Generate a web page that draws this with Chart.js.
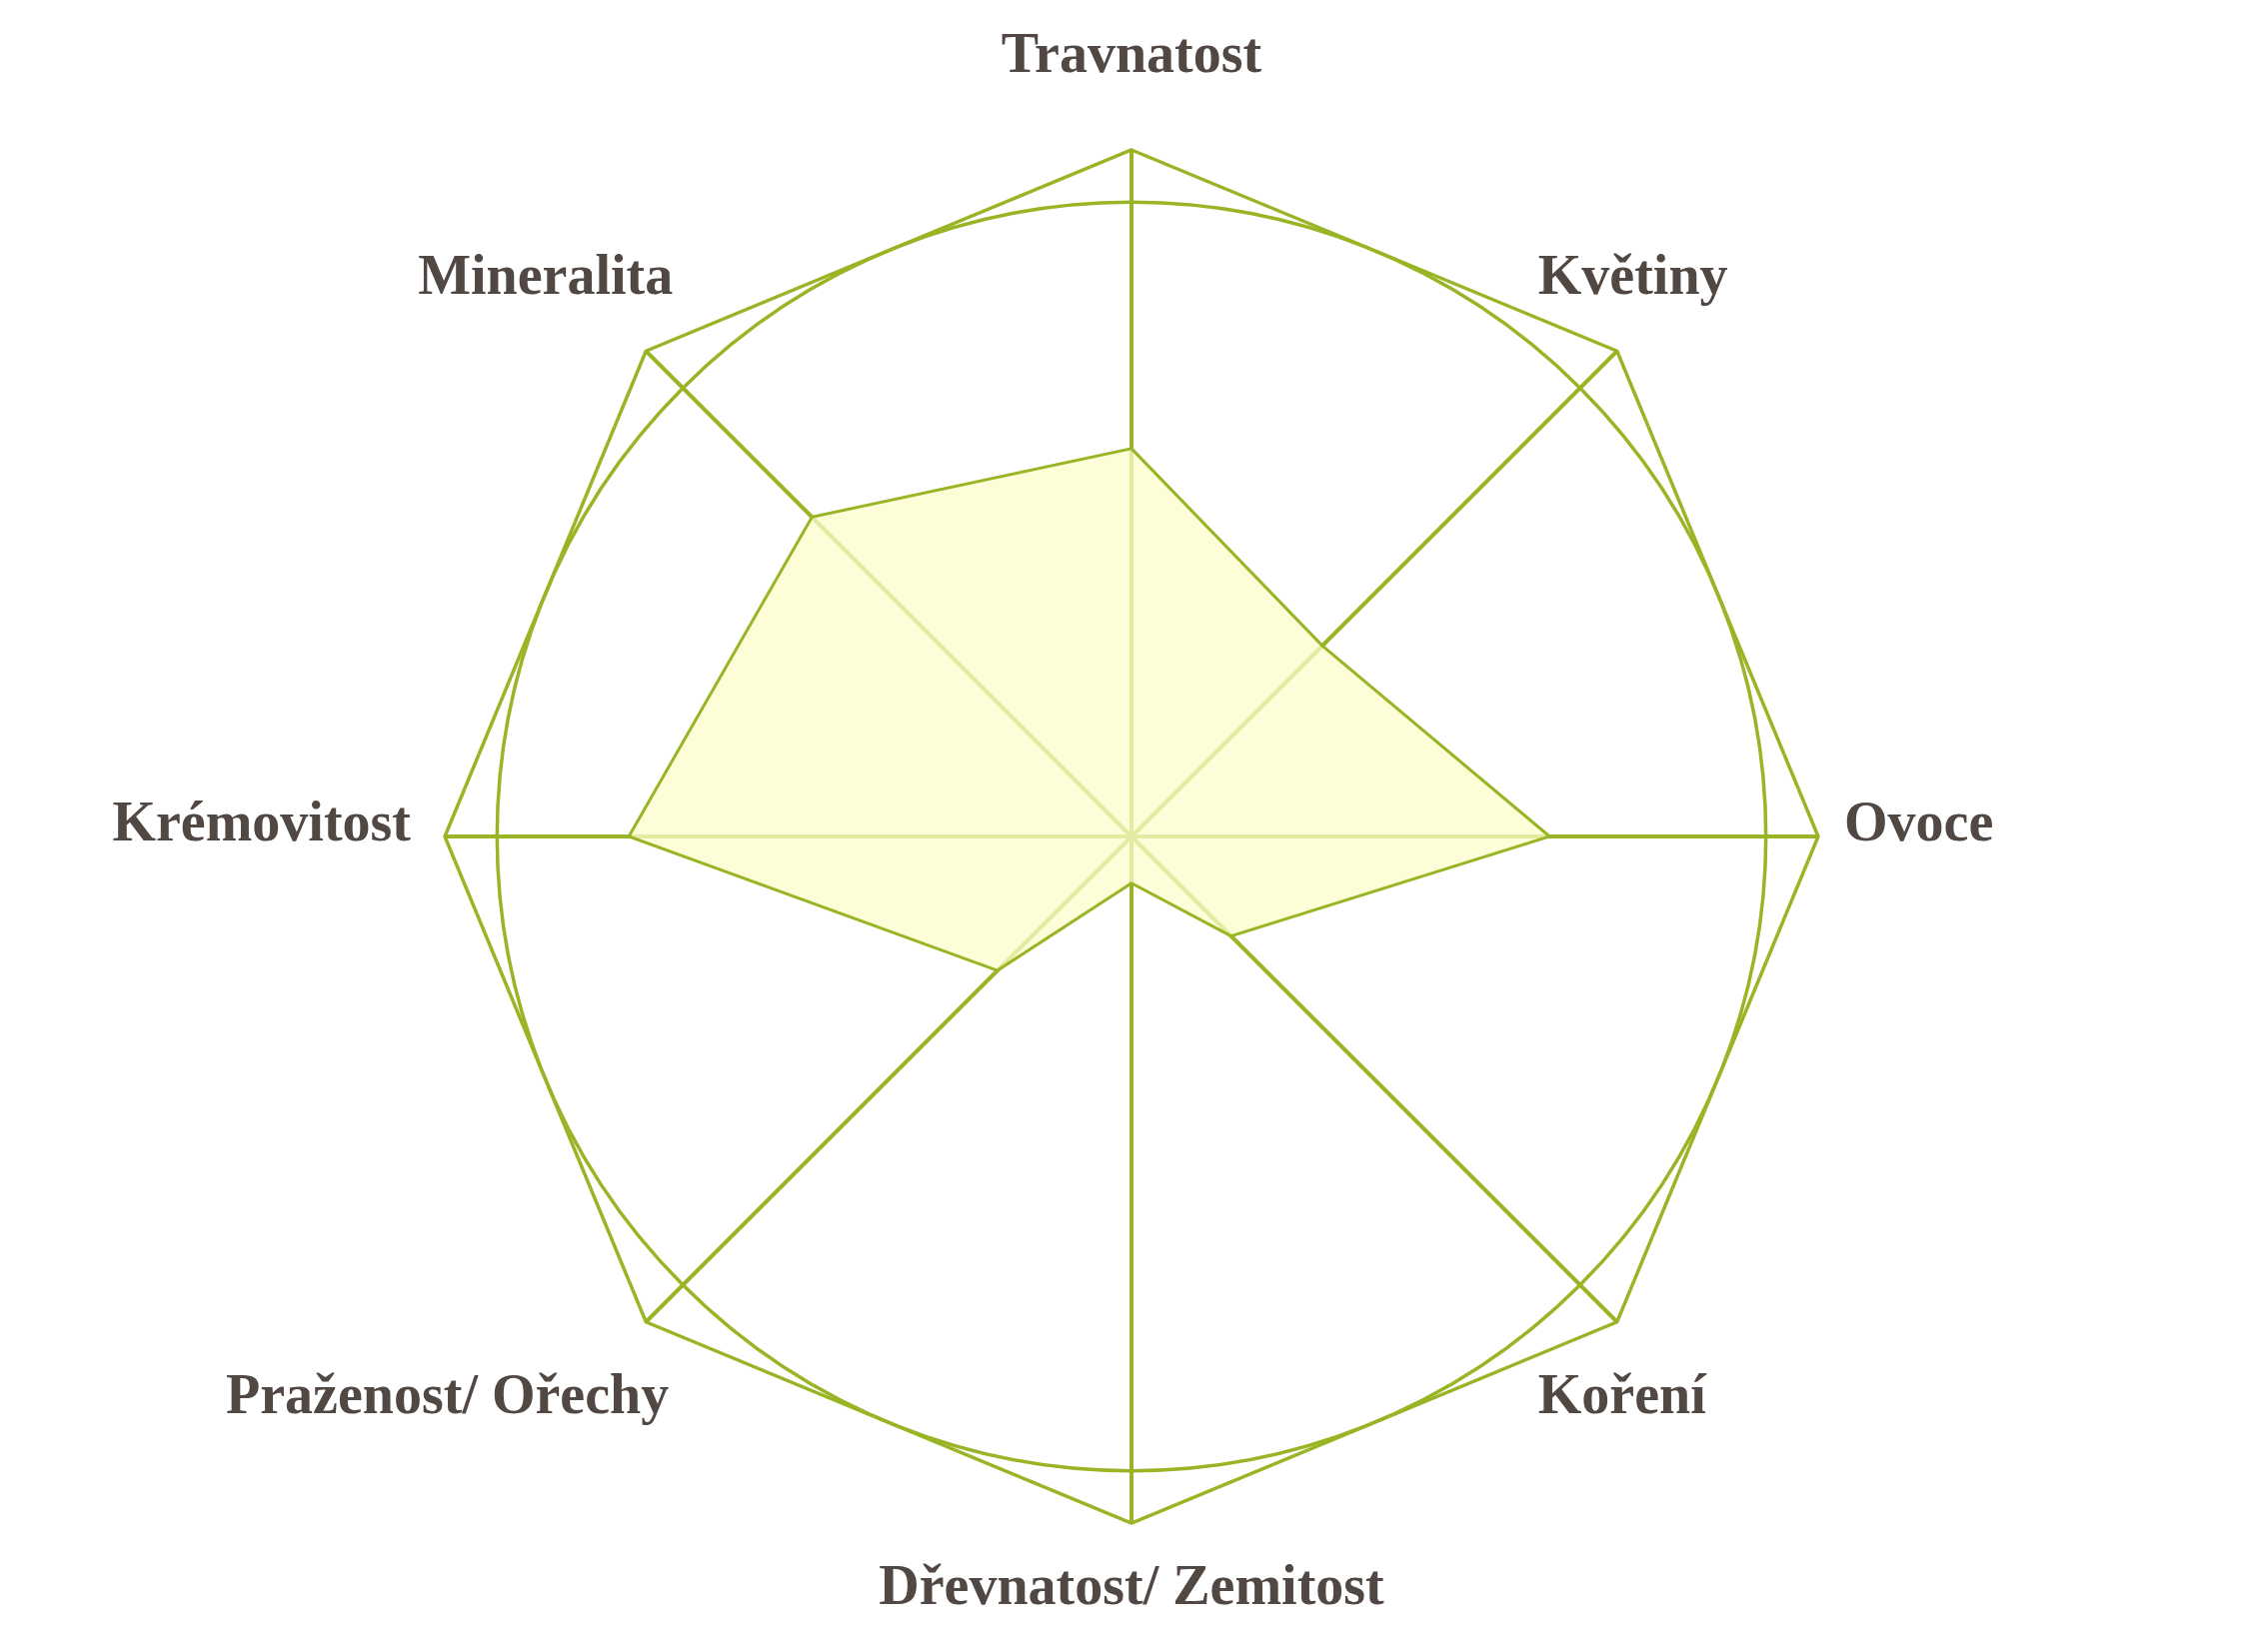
<!DOCTYPE html>
<html>
<head>
<meta charset="utf-8">
<script src="https://cdn.jsdelivr.net/npm/chart.js@4/dist/chart.umd.min.js"></script>
<style>
  html, body { margin: 0; padding: 0; background: #ffffff; }
  #wrap { width: 2265px; height: 1653px; }
</style>
</head>
<body>
<div id="wrap"><canvas id="c" width="2265" height="1653"></canvas></div>
<script>
const categories = ["Travnatost", "Květiny", "Ovoce", "Koření", "Dřevnatost/ Zemitost", "Praženost/ Ořechy", "Krémovitost", "Mineralita"];
const profileValues = [5.65, 3.93, 6.09, 2.05, 0.68, 2.76, 7.32, 6.58];
const scaleMin = 0;
const scaleMax = 10;

const GREEN = '#99b425';
const TEXT = '#514844';

// label placement relative to each axis end (style only)
const labelStyle = [
  { align: 'center', dx: 0,   dy: -78 },
  { align: 'left',   dx: -79, dy: -57 },
  { align: 'left',   dx: 26,  dy: 4 },
  { align: 'left',   dx: -79, dy: 91 },
  { align: 'center', dx: 0,   dy: 81 },
  { align: 'right',  dx: 23,  dy: 91 },
  { align: 'right',  dx: -34, dy: 4 },
  { align: 'right',  dx: 27,  dy: -57 }
];

const innerCircle = {
  id: 'innerCircle',
  beforeDatasetsDraw(chart) {
    const s = chart.scales.r;
    const ctx = chart.ctx;
    ctx.save();
    ctx.beginPath();
    ctx.arc(s.xCenter, s.yCenter, s.drawingArea * Math.cos(Math.PI / categories.length), 0, Math.PI * 2);
    ctx.strokeStyle = GREEN;
    ctx.lineWidth = 3.5;
    ctx.stroke();
    ctx.restore();
  }
};

const axisLabels = {
  id: 'axisLabels',
  afterDraw(chart) {
    const s = chart.scales.r;
    const ctx = chart.ctx;
    const outer = s.getDistanceFromCenterForValue(scaleMax);
    ctx.save();
    ctx.fillStyle = TEXT;
    ctx.font = 'bold 56px "Liberation Serif", "DejaVu Serif", serif';
    ctx.textBaseline = 'alphabetic';
    categories.forEach((label, i) => {
      const p = s.getPointPosition(i, outer);
      const st = labelStyle[i];
      ctx.textAlign = st.align;
      ctx.fillText(label, p.x + st.dx, p.y + st.dy);
    });
    ctx.restore();
  }
};

new Chart(document.getElementById('c'), {
  type: 'radar',
  data: {
    labels: categories,
    datasets: [{
      data: profileValues,
      backgroundColor: 'rgba(252,252,203,0.75)',
      borderColor: GREEN,
      borderWidth: 3,
      pointRadius: 0,
      pointHoverRadius: 0,
      fill: true
    }]
  },
  options: {
    responsive: false,
    animation: false,
    layout: { padding: { top: 150, bottom: 129, left: 0, right: 0 } },
    plugins: { legend: { display: false }, tooltip: { enabled: false } },
    scales: {
      r: {
        min: scaleMin,
        max: scaleMax,
        ticks: { display: false, stepSize: 10 },
        grid: { color: GREEN, lineWidth: 3.5, circular: false },
        angleLines: { color: GREEN, lineWidth: 4 },
        pointLabels: { display: false }
      }
    }
  },
  plugins: [innerCircle, axisLabels]
});
</script>
</body>
</html>
